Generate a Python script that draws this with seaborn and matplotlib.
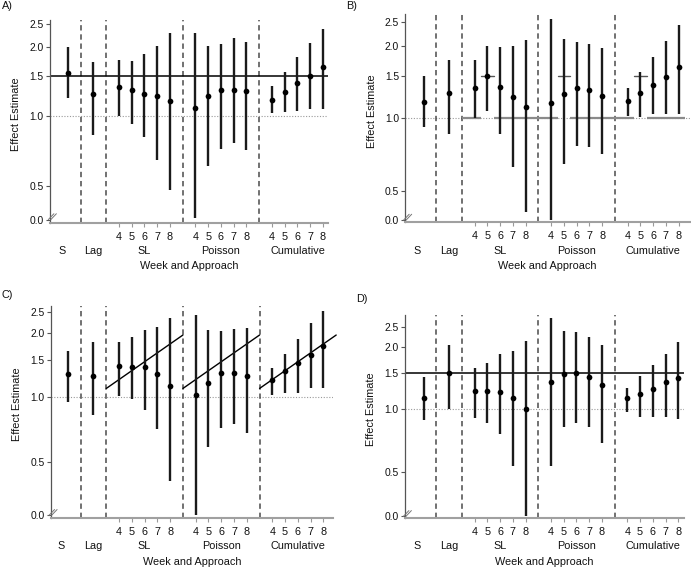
import numpy as np
import pandas as pd
import seaborn as sns
import matplotlib
matplotlib.use("Agg")
import matplotlib.pyplot as plt
from matplotlib.lines import Line2D
from matplotlib.transforms import Affine2D, ScaledTranslation, blended_transform_factory

# ---------------- data ----------------
approaches = ["S", "Lag", "SL", "Poisson", "Cumulative"]
weeks = [4, 5, 6, 7, 8]
ytick_values = [0.5, 1.0, 1.5, 2.0, 2.5]
ytick_labels = ["0.0", "0.5", "1.0", "1.5", "2.0", "2.5"]

# order: S, Lag, SL4..8, Poisson4..8, Cumulative4..8
est_A = [1.54, 1.25, 1.34, 1.30, 1.25, 1.23, 1.17, 1.09, 1.23, 1.30, 1.30, 1.28, 1.18, 1.27, 1.39, 1.50, 1.63]
lo_A  = [1.20, 0.83, 1.00, 0.93, 0.81, 0.65, 0.48, 0.365, 0.61, 0.72, 0.77, 0.715, 1.03, 1.04, 1.05, 1.08, 1.08]
hi_A  = [2.00, 1.72, 1.75, 1.73, 1.86, 2.01, 2.30, 2.29, 2.01, 2.06, 2.17, 2.09, 1.35, 1.55, 1.80, 2.07, 2.39]

est_B = [1.17, 1.27, 1.34, 1.50, 1.35, 1.22, 1.11, 1.16, 1.26, 1.34, 1.31, 1.24, 1.18, 1.27, 1.38, 1.49, 1.63]
lo_B  = [0.92, 0.86, 1.00, 1.07, 0.86, 0.63, 0.41, 0.379, 0.65, 0.77, 0.76, 0.71, 1.02, 1.01, 1.04, 1.04, 1.04]
hi_B  = [1.50, 1.74, 1.74, 1.99, 1.98, 1.99, 2.12, 2.57, 2.13, 2.08, 2.04, 1.96, 1.34, 1.56, 1.80, 2.09, 2.44]

est_C = [1.28, 1.26, 1.40, 1.39, 1.39, 1.28, 1.13, 1.03, 1.17, 1.30, 1.30, 1.26, 1.20, 1.32, 1.44, 1.57, 1.73]
lo_C  = [0.95, 0.83, 1.01, 0.98, 0.87, 0.71, 0.41, 0.2824, 0.59, 0.72, 0.75, 0.68, 1.03, 1.05, 1.05, 1.10, 1.10]
hi_C  = [1.64, 1.80, 1.80, 1.90, 2.06, 2.13, 2.35, 2.42, 2.05, 2.03, 2.07, 2.10, 1.37, 1.59, 1.86, 2.22, 2.53]

est_D = [1.13, 1.49, 1.22, 1.23, 1.21, 1.14, 1.00, 1.35, 1.48, 1.49, 1.44, 1.31, 1.13, 1.19, 1.25, 1.35, 1.41]
lo_D  = [0.885, 1.00, 0.905, 0.86, 0.76, 0.535, 0.304, 0.535, 0.82, 0.86, 0.82, 0.685, 0.97, 0.92, 0.92, 0.92, 0.895]
hi_D  = [1.44, 2.04, 1.58, 1.68, 1.84, 1.92, 2.14, 2.77, 2.38, 2.35, 2.24, 2.04, 1.27, 1.45, 1.63, 1.86, 2.11]

true_effect_A = 1.5
true_effect_D = 1.5
# panel B: true effect only at week 5
null_B = 1.0
peak_B = 1.5
# panel C: trend from 1.1 to 1.95 across each week block
trend_C = (1.1, 1.95)

# per-panel layout (pixels in a 691x567 figure)
panels = {
    "A": dict(est=est_A, lo=lo_A, hi=hi_A, box=(50, 328.3, 20, 222.7), xlim=(-1.41, 20.42),
              ylim=(0.347, 2.607), zero=0.358),
    "B": dict(est=est_B, lo=lo_B, hi=hi_B, box=(405.3, 690, 14, 222.3), xlim=(-1.44, 20.89),
              ylim=(0.371, 2.705), zero=0.379),
    "C": dict(est=est_C, lo=lo_C, hi=hi_C, box=(50.7, 333, 305.7, 518), xlim=(-1.35, 20.75),
              ylim=(0.2745, 2.67), zero=0.2824),
    "D": dict(est=est_D, lo=lo_D, hi=hi_D, box=(405, 684.3, 314.7, 518), xlim=(-1.47, 20.47),
              ylim=(0.2987, 2.864), zero=0.304),
}
letter_pos = {"A": (1.5, 6), "B": (346.5, 6), "C": (1.5, 295), "D": (356.5, 299)}

# ---------------- positions ----------------
positions = [0, 2]
for start in (4, 10, 16):
    positions += [start + i for i in range(len(weeks))]
separators = [1, 3, 9, 15]
group_label_x = [-0.5, 2, 6, 12, 18]
week_tick_pos = positions[2:]
week_tick_lab = [str(w) for w in weeks] * 3

sns.set_theme(style="ticks")
plt.rcParams["font.family"] = ["Liberation Sans", "DejaVu Sans"]

W, H = 691, 567
fig = plt.figure(figsize=(W / 100, H / 100), dpi=100)

for key, p in panels.items():
    L, R, T, B = p["box"]
    ax = fig.add_axes([L / W, 1 - B / H, (R - L) / W, (B - T) / H])
    ax.set_yscale("log")
    df = pd.DataFrame({"pos": positions, "est": p["est"], "lo": p["lo"], "hi": p["hi"]})

    # reference lines
    ax.axhline(1.0, color="#9a9a9a", lw=0.8, ls=(0, (1, 1.5)), zorder=1)
    for s in separators:
        ax.axvline(s, color="#4a4a4a", lw=1.1, ls=(0, (3.5, 2.5)), zorder=1)
    if key == "A":
        ax.axhline(true_effect_A, color="black", lw=1.1, zorder=2)
    if key == "D":
        ax.axhline(true_effect_D, color="black", lw=1.1, zorder=2)
    if key == "B":
        for a, b in [(3, 4.5), (5.5, 10.5), (11.5, 16.5), (17.5, 20.5)]:
            ax.plot([a, b], [null_B, null_B], color="#8a8a8a", lw=1.6, zorder=2, solid_capstyle="butt")
        for c in (5, 11, 17):
            ax.plot([c - 0.5, c + 0.5], [peak_B, peak_B], color="#555555", lw=1.0, zorder=2)
    if key == "C":
        for a in (3, 9, 15):
            ax.plot([a, a + 6], list(trend_C), color="black", lw=1.0, zorder=2, clip_on=False)

    # CIs and estimates
    ax.vlines(df["pos"], df["lo"], df["hi"], color="#1a1a1a", lw=1.7, zorder=3)
    sns.scatterplot(data=df, x="pos", y="est", ax=ax, color="black", s=17,
                    edgecolor="black", linewidth=0, zorder=4)

    ax.set_xlim(*p["xlim"])
    ax.set_ylim(*p["ylim"])
    ax.set_xlabel("")
    ax.set_ylabel("")
    ax.minorticks_off()
    ax.set_yticks([p["zero"]] + ytick_values)
    ax.set_yticklabels(ytick_labels)
    ax.set_xticks(week_tick_pos)
    ax.set_xticklabels(week_tick_lab)
    ax.tick_params(axis="y", length=3, width=0.8, color="#555555", pad=1.5, labelsize=7.4, labelcolor="#111111")
    ax.tick_params(axis="x", length=3, width=0.8, color="#999999", pad=3.5, labelsize=7.8, labelcolor="#111111")
    sns.despine(ax=ax)
    ax.spines["left"].set_color("#555555")
    ax.spines["left"].set_linewidth(0.9)
    ax.spines["bottom"].set_color("#a0a0a0")
    ax.spines["bottom"].set_linewidth(1.5)

    # group labels
    for gx, gl in zip(group_label_x, approaches):
        ax.annotate(gl, xy=(gx, 0), xycoords=("data", "axes fraction"), xytext=(0, -20.5),
                    textcoords="offset points", ha="center", va="center", fontsize=7.8, color="#111111")
    ax.annotate("Week and Approach", xy=(0.5, 0), xycoords="axes fraction", xytext=(0, -31.5),
                textcoords="offset points", ha="center", va="center", fontsize=7.8, color="#111111")
    ax.annotate("Effect Estimate", xy=(0, 0.535), xycoords="axes fraction", xytext=(-24.2, 0),
                textcoords="offset points", ha="center", va="center", rotation=90, fontsize=7.8,
                color="#111111")

    # axis break mark
    anchor = blended_transform_factory(ax.transAxes, ax.transData)
    tr = Affine2D().scale(1 / 72.0) + fig.dpi_scale_trans + ScaledTranslation(0, p["zero"], anchor)
    for dx in (0.0, 1.8):
        ln = Line2D([dx - 1.2, dx + 2.8], [0.0, 4.2], transform=tr, color="#777777", lw=0.7)
        fig.add_artist(ln)

    lx, ly = letter_pos[key]
    fig.text(lx / W, 1 - ly / H, key + ")", ha="left", va="center", fontsize=7.8, color="#111111")

fig.savefig("out.png", dpi=100)
